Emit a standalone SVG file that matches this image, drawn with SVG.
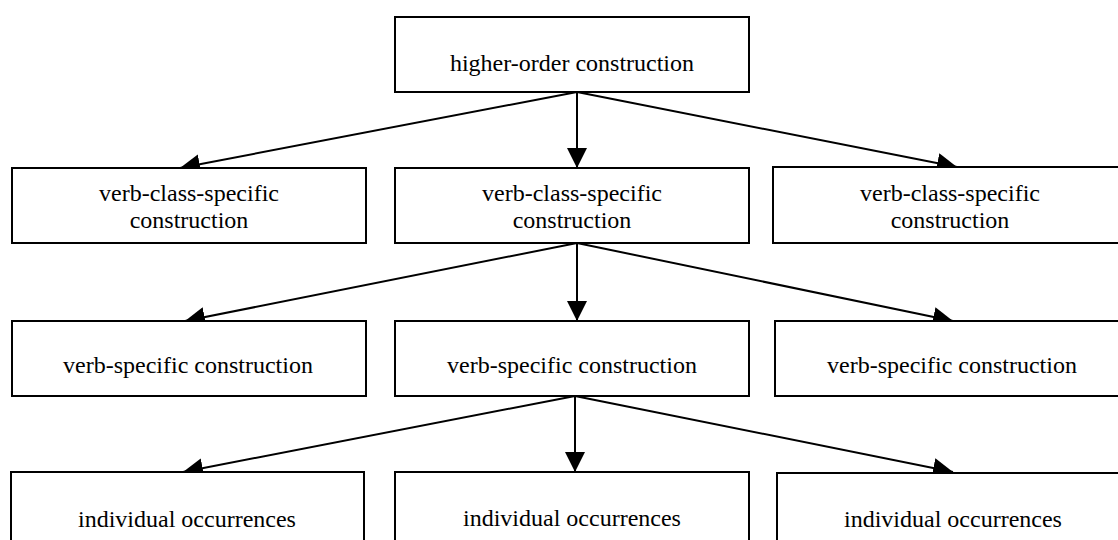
<svg xmlns="http://www.w3.org/2000/svg" width="1118" height="540" viewBox="0 0 1118 540">
<style>
.box{fill:#fff;stroke:#000;stroke-width:2}
.t{font-family:"Liberation Serif","Times New Roman",serif;font-size:24px;fill:#000;text-anchor:middle}
.c{stroke:#000;stroke-width:2;fill:none;marker-end:url(#ah)}
</style>
<defs>
<marker id="ah" markerUnits="userSpaceOnUse" markerWidth="20" markerHeight="20" viewBox="0 0 20 20" refX="20" refY="10" orient="auto">
<path d="M0,0 L20,10 L0,20 z" fill="#000"/>
</marker>
</defs>
<rect width="1118" height="540" fill="#fff"/>
<g id="connectors">
<line class="c" x1="577" y1="92" x2="180" y2="168"/>
<line class="c" x1="577" y1="92" x2="577" y2="168"/>
<line class="c" x1="577" y1="92" x2="957" y2="167"/>
<line class="c" x1="577" y1="243" x2="185" y2="321"/>
<line class="c" x1="577" y1="243" x2="577" y2="321"/>
<line class="c" x1="577" y1="243" x2="953" y2="321"/>
<line class="c" x1="575" y1="396" x2="183" y2="472"/>
<line class="c" x1="575" y1="396" x2="575" y2="472"/>
<line class="c" x1="575" y1="396" x2="953" y2="472"/>
</g>
<g id="n-top">
<rect class="box" x="395" y="17" width="354" height="75"/>
<text class="t" x="572" y="71">higher-order construction</text>
</g>
<g id="n-vc-left">
<rect class="box" x="12" y="168" width="354" height="75"/>
<text class="t" x="189" y="201">verb-class-specific</text>
<text class="t" x="189" y="228">construction</text>
</g>
<g id="n-vc-mid">
<rect class="box" x="395" y="168" width="354" height="75"/>
<text class="t" x="572" y="201">verb-class-specific</text>
<text class="t" x="572" y="228">construction</text>
</g>
<g id="n-vc-right">
<rect class="box" x="773" y="167" width="360" height="76"/>
<text class="t" x="950" y="201">verb-class-specific</text>
<text class="t" x="950" y="228">construction</text>
</g>
<g id="n-vs-left">
<rect class="box" x="12" y="321" width="354" height="75"/>
<text class="t" x="188" y="373">verb-specific construction</text>
</g>
<g id="n-vs-mid">
<rect class="box" x="395" y="321" width="354" height="75"/>
<text class="t" x="572" y="373">verb-specific construction</text>
</g>
<g id="n-vs-right">
<rect class="box" x="775" y="321" width="360" height="75"/>
<text class="t" x="952" y="373">verb-specific construction</text>
</g>
<g id="n-io-left">
<rect class="box" x="11" y="472" width="353" height="80"/>
<text class="t" x="187" y="527">individual occurrences</text>
</g>
<g id="n-io-mid">
<rect class="box" x="395" y="472" width="354" height="80"/>
<text class="t" x="572" y="526">individual occurrences</text>
</g>
<g id="n-io-right">
<rect class="box" x="777" y="473" width="360" height="80"/>
<text class="t" x="953" y="527">individual occurrences</text>
</g>
</svg>
